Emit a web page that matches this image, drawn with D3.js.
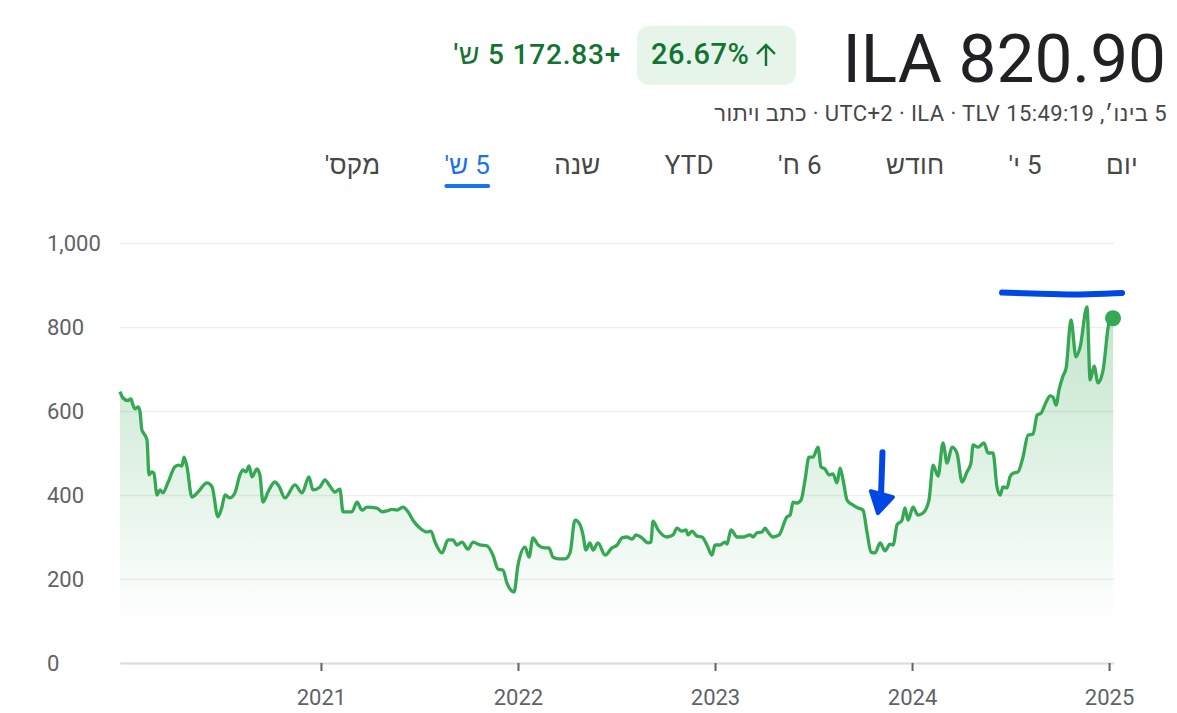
<!DOCTYPE html>
<html lang="he">
<head>
<meta charset="utf-8">
<script src="https://cdn.jsdelivr.net/npm/d3@7"></script>
<style>
  body { margin: 0; background: #fff; }
  svg { display: block; font-family: Roboto, "Liberation Sans", Arial, sans-serif; }
</style>
</head>
<body>
<script>
// price history (decimal years / ILA)
var years = [2019.980, 2019.995, 2020.020, 2020.036, 2020.046, 2020.056, 2020.071, 2020.081, 2020.091, 2020.102,
  2020.117, 2020.127, 2020.142, 2020.152, 2020.168, 2020.183, 2020.198, 2020.223, 2020.259, 2020.279,
  2020.294, 2020.305, 2020.320, 2020.345, 2020.376, 2020.421, 2020.447, 2020.477, 2020.497, 2020.513,
  2020.538, 2020.563, 2020.589, 2020.604, 2020.619, 2020.635, 2020.650, 2020.675, 2020.690, 2020.706,
  2020.731, 2020.766, 2020.787, 2020.817, 2020.868, 2020.904, 2020.939, 2020.959, 2020.995, 2021.020,
  2021.046, 2021.071, 2021.096, 2021.112, 2021.157, 2021.183, 2021.208, 2021.234, 2021.284, 2021.310,
  2021.335, 2021.360, 2021.386, 2021.416, 2021.442, 2021.467, 2021.503, 2021.538, 2021.558, 2021.579,
  2021.614, 2021.645, 2021.670, 2021.690, 2021.716, 2021.746, 2021.772, 2021.807, 2021.843, 2021.873,
  2021.898, 2021.924, 2021.944, 2021.980, 2022.000, 2022.036, 2022.056, 2022.076, 2022.102, 2022.137,
  2022.157, 2022.178, 2022.213, 2022.239, 2022.264, 2022.289, 2022.315, 2022.330, 2022.345, 2022.365,
  2022.381, 2022.406, 2022.442, 2022.477, 2022.503, 2022.528, 2022.553, 2022.579, 2022.599, 2022.629,
  2022.660, 2022.675, 2022.685, 2022.711, 2022.756, 2022.787, 2022.807, 2022.832, 2022.853, 2022.863,
  2022.883, 2022.909, 2022.934, 2022.959, 2022.985, 2023.000, 2023.025, 2023.051, 2023.061, 2023.081,
  2023.112, 2023.142, 2023.178, 2023.193, 2023.213, 2023.239, 2023.254, 2023.269, 2023.294, 2023.325,
  2023.365, 2023.381, 2023.396, 2023.416, 2023.437, 2023.457, 2023.477, 2023.497, 2023.523, 2023.538,
  2023.558, 2023.579, 2023.599, 2023.619, 2023.635, 2023.650, 2023.670, 2023.701, 2023.726, 2023.751,
  2023.772, 2023.792, 2023.812, 2023.838, 2023.863, 2023.888, 2023.904, 2023.924, 2023.949, 2023.964,
  2023.980, 2024.005, 2024.030, 2024.056, 2024.086, 2024.107, 2024.132, 2024.157, 2024.178, 2024.203,
  2024.228, 2024.254, 2024.279, 2024.299, 2024.310, 2024.335, 2024.365, 2024.386, 2024.411, 2024.431,
  2024.447, 2024.462, 2024.482, 2024.497, 2024.513, 2024.538, 2024.563, 2024.589, 2024.614, 2024.635,
  2024.655, 2024.680, 2024.701, 2024.716, 2024.731, 2024.746, 2024.766, 2024.782, 2024.807, 2024.832,
  2024.853, 2024.888, 2024.904, 2024.924, 2024.944, 2024.970, 2025.000, 2025.020];
var prices = [646, 631, 625, 629, 614, 605, 610, 600, 555, 546,
  531, 448, 455, 452, 400, 412, 405, 429, 467, 471,
  469, 490, 467, 395, 407, 429, 420, 348, 371, 400,
  393, 405, 448, 460, 455, 469, 443, 462, 448, 383,
  407, 431, 421, 393, 424, 405, 443, 412, 419, 436,
  421, 407, 414, 360, 360, 383, 364, 371, 369, 360,
  362, 366, 364, 371, 360, 340, 321, 312, 314, 288,
  262, 293, 293, 281, 288, 271, 288, 281, 279, 257,
  224, 221, 190, 169, 233, 276, 252, 298, 281, 274,
  274, 252, 248, 248, 262, 340, 329, 305, 269, 286,
  269, 286, 257, 274, 281, 298, 300, 295, 305, 298,
  286, 288, 338, 317, 300, 305, 321, 314, 317, 305,
  314, 302, 300, 281, 257, 281, 281, 288, 283, 317,
  300, 300, 305, 300, 310, 312, 321, 312, 300, 305,
  348, 352, 383, 381, 388, 436, 490, 490, 514, 467,
  462, 448, 450, 429, 464, 436, 388, 376, 369, 364,
  310, 264, 262, 286, 267, 283, 281, 329, 340, 369,
  340, 371, 352, 357, 388, 471, 445, 524, 476, 514,
  500, 431, 455, 476, 519, 514, 524, 500, 500, 419,
  400, 419, 417, 443, 452, 455, 490, 543, 545, 590,
  595, 621, 636, 633, 614, 650, 683, 702, 817, 729,
  752, 848, 674, 707, 667, 698, 810, 820.90];

var yTicks = [0, 200, 400, 600, 800, 1000];
var xTicks = [2021, 2022, 2023, 2024, 2025];
var tabLabels = ["יום", "5 י'", "חודש", "6 ח'", "YTD", "שנה", "5 ש'", "מקס'"];
var selectedTab = "5 ש'";
var symbol = "ILA";
var lastPrice = 820.90;
var change = 172.83;
var changePct = 26.67;
var periodLabel = "5 ש'";
var subtitle = "5 בינו׳, 15:49:19 UTC+2 · ILA · TLV · כתב ויתור";

// hand-drawn blue marks on the screenshot
var arrowYears = [2023.850, 2023.842];
var arrowValues = [502, 357];
var markYears = [2024.457, 2024.650, 2024.850, 2025.066];
var markValues = [882, 879, 876, 881];

var green = "#34a853", textGreen = "#137333", blue = "#0047e6";

var svg = d3.select("body").append("svg").attr("width", 1177).attr("height", 713);

// ---- header ----
svg.append("text")
    .attr("x", 1166).attr("y", 82)
    .attr("text-anchor", "end")
    .attr("fill", "#202124")
    .style("font-size", "67.5px")
    .text(symbol + " " + lastPrice.toFixed(2));

svg.append("rect")
    .attr("x", 637).attr("y", 26).attr("width", 159).attr("height", 59).attr("rx", 12)
    .attr("fill", "#e6f4ea");

svg.append("text")
    .attr("x", 651).attr("y", 64)
    .attr("fill", textGreen)
    .style("font-size", "29px").style("font-weight", 500).style("letter-spacing", "0.5px")
    .text(changePct.toFixed(2) + "%");

svg.append("path")
    .attr("d", "M766,66V45M757,54L766,45L775,54")
    .attr("fill", "none").attr("stroke", textGreen).attr("stroke-width", 2.4);

// right-to-left strings: measure, then centre them so their right edge lands where wanted
function rtlText(str, right, baseline, size, fill, weight, spacing) {
    var t = svg.append("text")
        .attr("y", baseline)
        .attr("text-anchor", "middle")
        .attr("fill", fill)
        .style("direction", "rtl").style("unicode-bidi", "embed")
        .style("font-size", size + "px")
        .style("font-weight", weight || 400)
        .style("letter-spacing", (spacing || 0) + "px")
        .text(str);
    var w = t.node().getComputedTextLength();
    t.attr("x", right - w / 2);
    return w;
}

rtlText("+" + change.toFixed(2) + " " + periodLabel, 621, 64, 28, textGreen, 500, 0.8);
rtlText(subtitle, 1167, 121, 22, "#474747", 400, 0.4);

// tabs, laid out from the right
var cursor = 1138;
tabLabels.forEach(function (label) {
    var isSel = label === selectedTab;
    var w = rtlText(label, cursor, 174, 26, isSel ? "#1a73e8" : "#474747", 400, 0.3);
    if (isSel) {
        svg.append("rect")
            .attr("x", cursor - w).attr("y", 184).attr("width", w).attr("height", 4).attr("rx", 2)
            .attr("fill", "#1a73e8");
    }
    cursor -= w + 64;
});

// ---- chart ----
var x = d3.scaleLinear().domain([years[0], years[years.length - 1]]).range([120, 1113]);
var y = d3.scaleLinear().domain([0, 1000]).range([663, 243]);

var data = years.map(function (t, i) { return { t: t, v: prices[i] }; });

var defs = svg.append("defs");
var grad = defs.append("linearGradient")
    .attr("id", "fillGrad")
    .attr("gradientUnits", "userSpaceOnUse")
    .attr("x1", 0).attr("x2", 0)
    .attr("y1", y(d3.max(prices))).attr("y2", y(d3.min(prices) * 0.55));
grad.append("stop").attr("offset", 0).attr("stop-color", green).attr("stop-opacity", 0.30);
grad.append("stop").attr("offset", 1).attr("stop-color", green).attr("stop-opacity", 0);

var yAxisG = svg.append("g")
    .attr("transform", "translate(120,0)")
    .call(d3.axisLeft(y).tickValues(yTicks).tickSize(-995).tickFormat(d3.format(",")));
yAxisG.attr("font-size", null).attr("font-family", null);
yAxisG.select(".domain").remove();
yAxisG.selectAll(".tick line").attr("stroke", "#eeeeee").attr("stroke-width", 1.5);
yAxisG.selectAll(".tick text")
    .attr("x", -73).attr("text-anchor", "start")
    .attr("fill", "#5f6368")
    .style("font-size", "22px");

var area = d3.area()
    .x(function (d) { return x(d.t); })
    .y0(y(0))
    .y1(function (d) { return y(d.v); })
    .curve(d3.curveMonotoneX);

var line = d3.line()
    .x(function (d) { return x(d.t); })
    .y(function (d) { return y(d.v); })
    .curve(d3.curveMonotoneX);

svg.append("path").datum(data).attr("d", area).attr("fill", "url(#fillGrad)");

var xAxisG = svg.append("g")
    .attr("transform", "translate(0,663)")
    .call(d3.axisBottom(x).tickValues(xTicks).tickFormat(d3.format("d")).tickSize(8).tickSizeOuter(0).tickPadding(18));
xAxisG.attr("font-size", null).attr("font-family", null);
xAxisG.select(".domain").attr("stroke", "#dadce0").attr("stroke-width", 2);
xAxisG.selectAll(".tick line").attr("stroke", "#5f6368").attr("stroke-width", 2);
xAxisG.selectAll(".tick text").attr("fill", "#5f6368").style("font-size", "22px");

svg.append("path").datum(data)
    .attr("d", line)
    .attr("fill", "none")
    .attr("stroke", green)
    .attr("stroke-width", 3.3)
    .attr("stroke-linejoin", "round");

var last = data[data.length - 1];
svg.append("circle")
    .attr("cx", x(last.t)).attr("cy", y(last.v)).attr("r", 8)
    .attr("fill", green);

// ---- blue annotations ----
var ax0 = x(arrowYears[0]), ay0 = y(arrowValues[0]);
var ax1 = x(arrowYears[1]), ay1 = y(arrowValues[1]);
svg.append("path")
    .attr("d", "M" + ax0 + "," + ay0 + "L" + ax1 + "," + (ay1 - 14))
    .attr("stroke", blue).attr("stroke-width", 6).attr("stroke-linecap", "round").attr("fill", "none");
svg.append("path")
    .attr("d", "M" + (ax1 - 3) + "," + ay1 + "L" + (ax1 - 10) + "," + (ay1 - 22) +
        "L" + (ax1 + 12) + "," + (ay1 - 16) + "Z")
    .attr("fill", blue).attr("stroke", blue).attr("stroke-width", 4).attr("stroke-linejoin", "round");

var markLine = d3.line()
    .x(function (d) { return x(d); })
    .y(function (d, i) { return y(markValues[i]); })
    .curve(d3.curveBasis);
svg.append("path")
    .attr("d", markLine(markYears))
    .attr("fill", "none").attr("stroke", blue).attr("stroke-width", 6).attr("stroke-linecap", "round");
</script>
</body>
</html>
